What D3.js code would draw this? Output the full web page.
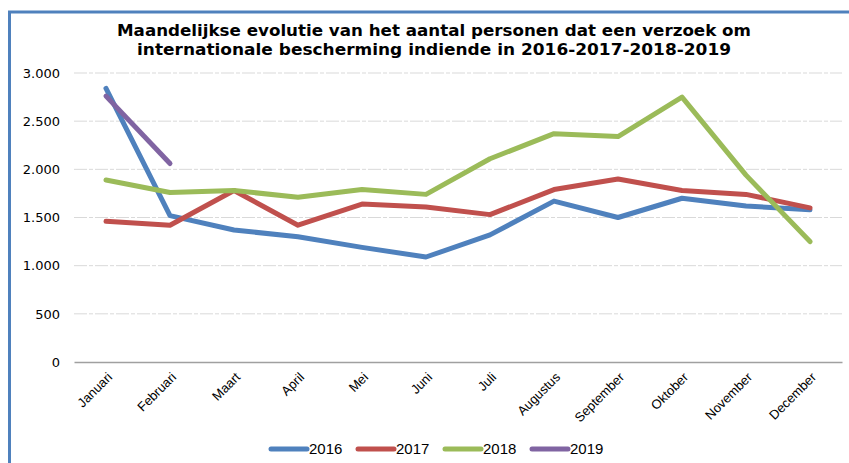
<!DOCTYPE html>
<html>
<head>
<meta charset="utf-8">
<script src="https://cdn.jsdelivr.net/npm/d3@7"></script>
<style>
  body { margin: 0; background: #fff; }
  svg { display: block; }
</style>
</head>
<body>
<svg id="chart" width="849" height="463"></svg>
<script>
// months on the x axis
var months = ["Januari", "Februari", "Maart", "April", "Mei", "Juni", "Juli",
  "Augustus", "September", "Oktober", "November", "December"];

// monthly values per year
var y2016 = [2840, 1520, 1370, 1300, 1190, 1090, 1320, 1670, 1500, 1700, 1620, 1580];
var y2017 = [1460, 1420, 1780, 1420, 1640, 1610, 1530, 1790, 1900, 1780, 1740, 1600];
var y2018 = [1890, 1760, 1780, 1710, 1790, 1740, 2110, 2370, 2340, 2750, 1940, 1250];
var y2019 = [2760, 2060];

var years = ["2016", "2017", "2018", "2019"];
var colours = ["#4f81bd", "#c0504d", "#9bbb59", "#8064a2"];
var yTicks = [0, 500, 1000, 1500, 2000, 2500, 3000];

var titleLines = ["Maandelijkse evolutie van het aantal personen dat een verzoek om",
  "internationale bescherming indiende in 2016-2017-2018-2019"];
var titleWidths = [634, 594];

var series = [y2016, y2017, y2018, y2019].map(function(vals, i) {
  return { name: years[i], colour: colours[i], values: vals };
});

var svg = d3.select("#chart");

// frame (left and top blue border)
svg.append("path")
  .attr("d", "M9.5,463 V12 H849")
  .attr("fill", "none")
  .attr("stroke", "#4f81bd")
  .attr("stroke-width", 3);

// title
svg.append("g").selectAll("text")
  .data(titleLines)
  .enter().append("text")
  .attr("x", 434)
  .attr("y", function(d, i) { return 36 + i * 19; })
  .attr("text-anchor", "middle")
  .attr("font-family", "DejaVu Sans, Verdana, sans-serif")
  .attr("font-weight", "bold")
  .attr("font-size", 15)
  .attr("textLength", function(d, i) { return titleWidths[i]; })
  .attr("lengthAdjust", "spacingAndGlyphs")
  .attr("fill", "#000")
  .text(function(d) { return d; });

var x = d3.scaleBand().domain(months).range([74, 842]);
var y = d3.scaleLinear().domain([0, 3000]).range([362, 73]);

// gridlines
svg.append("g").selectAll("line")
  .data(yTicks.filter(function(t) { return t > 0; }))
  .enter().append("line")
  .attr("x1", 74).attr("x2", 842)
  .attr("y1", function(d) { return y(d); })
  .attr("y2", function(d) { return y(d); })
  .attr("stroke", "#d9d9d9")
  .attr("stroke-width", 1)
  .attr("stroke-dasharray", "13,2,4,2");

// y axis labels
var yAxis = d3.axisLeft(y).tickValues(yTicks).tickSize(0).tickPadding(0)
  .tickFormat(function(d) { return d3.format(",")(d).replace(/,/g, "."); });
var gy = svg.append("g").attr("transform", "translate(60,0)").call(yAxis);
gy.select(".domain").remove();
gy.selectAll("text")
  .attr("font-family", "DejaVu Sans, Verdana, sans-serif")
  .attr("font-size", 13)
  .attr("fill", "#000");

// x axis
var xAxis = d3.axisBottom(x).tickSize(0).tickPadding(0);
var gx = svg.append("g").attr("transform", "translate(0," + y(0) + ")").call(xAxis);
gx.select(".domain").attr("stroke", "#a0a0a0").attr("stroke-width", 1.3);
gx.selectAll("text")
  .attr("font-family", "Liberation Sans, Arial, sans-serif")
  .attr("font-size", 13)
  .attr("fill", "#000")
  .attr("text-anchor", "end")
  .attr("dy", null)
  .attr("y", 0)
  .attr("transform", "translate(7,16) rotate(-45)");

// lines
var line = d3.line()
  .x(function(d, i) { return x(months[i]) + x.bandwidth() / 2; })
  .y(function(d) { return y(d); });

svg.append("g").selectAll("path")
  .data(series)
  .enter().append("path")
  .attr("d", function(d) { return line(d.values); })
  .attr("fill", "none")
  .attr("stroke", function(d) { return d.colour; })
  .attr("stroke-width", 5)
  .attr("stroke-linejoin", "round")
  .attr("stroke-linecap", "round");

// legend
var legendX = d3.scalePoint().domain(years).range([270, 531]);
var legend = svg.append("g").selectAll("g")
  .data(series)
  .enter().append("g")
  .attr("transform", function(d) { return "translate(" + legendX(d.name) + ",449)"; });
legend.append("line")
  .attr("x1", 1).attr("x2", 37)
  .attr("stroke", function(d) { return d.colour; })
  .attr("stroke-width", 5)
  .attr("stroke-linecap", "round");
legend.append("text")
  .attr("x", 39)
  .attr("y", 5)
  .attr("font-family", "Liberation Sans, Arial, sans-serif")
  .attr("font-size", 15)
  .attr("fill", "#000")
  .text(function(d) { return d.name; });
</script>
</body>
</html>
